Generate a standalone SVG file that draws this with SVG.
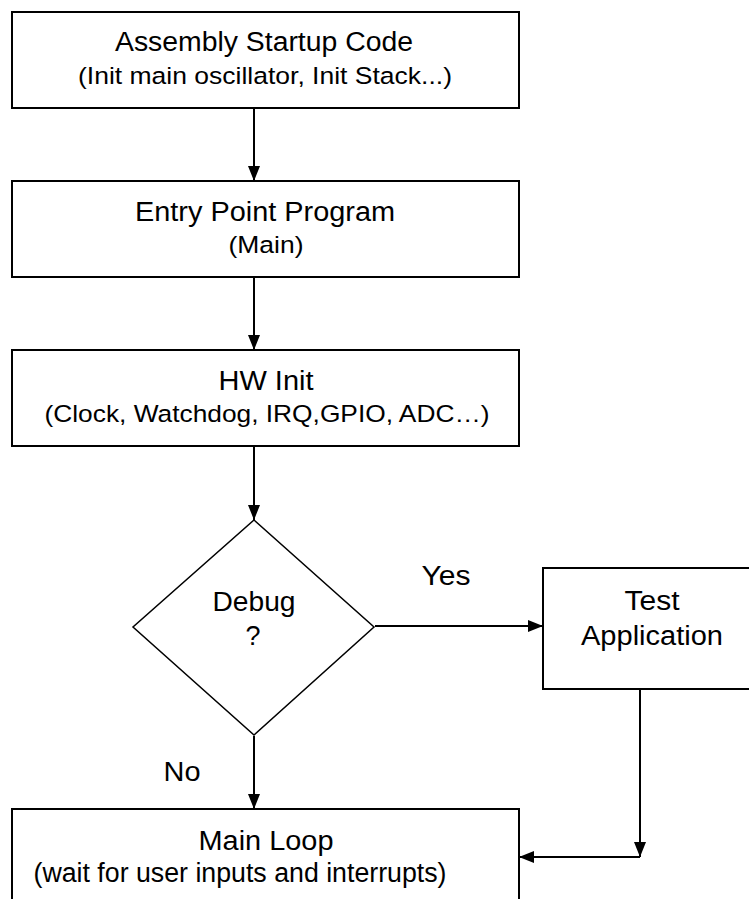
<svg xmlns="http://www.w3.org/2000/svg" width="749" height="899" viewBox="0 0 749 899">
<style>
.box{fill:#fff;stroke:#000;stroke-width:2}
.t{font-family:"Liberation Sans",Arial,sans-serif;font-size:27px;fill:#000;text-anchor:middle}
.s{font-family:"Liberation Sans",Arial,sans-serif;font-size:24.5px;fill:#000;text-anchor:middle}
.c{fill:none;stroke:#000;stroke-width:2}
</style>
<defs>
<marker id="ah" markerWidth="15" markerHeight="12" refX="15" refY="6" orient="auto" markerUnits="userSpaceOnUse">
<path d="M0,0 L15,6 L0,12 Z" fill="#000"/>
</marker>
</defs>
<rect width="749" height="899" fill="#fff"/>
<g id="connectors">
<line class="c" x1="254" y1="108" x2="254" y2="181" marker-end="url(#ah)"/>
<line class="c" x1="254" y1="277" x2="254" y2="350" marker-end="url(#ah)"/>
<line class="c" x1="254" y1="446" x2="254" y2="520" marker-end="url(#ah)"/>
<line class="c" x1="375" y1="626" x2="543" y2="626" marker-end="url(#ah)"/>
<line class="c" x1="254" y1="736" x2="254" y2="809" marker-end="url(#ah)"/>
<line class="c" x1="640" y1="689" x2="640" y2="857" marker-end="url(#ah)"/>
<line class="c" x1="640" y1="857" x2="519" y2="857" marker-end="url(#ah)"/>
<text class="t" x="446" y="585" textLength="49" lengthAdjust="spacingAndGlyphs">Yes</text>
<text class="t" x="182" y="781" textLength="37" lengthAdjust="spacingAndGlyphs">No</text>
</g>
<g id="startup">
<rect class="box" x="12" y="12" width="507" height="96"/>
<text class="t" x="264" y="51" textLength="298" lengthAdjust="spacingAndGlyphs">Assembly Startup Code</text>
<text class="s" x="265" y="84" textLength="374" lengthAdjust="spacingAndGlyphs">(Init main oscillator, Init Stack...)</text>
</g>
<g id="entry">
<rect class="box" x="12" y="181" width="507" height="96"/>
<text class="t" x="265" y="221" textLength="260" lengthAdjust="spacingAndGlyphs">Entry Point Program</text>
<text class="s" x="266" y="253" textLength="75" lengthAdjust="spacingAndGlyphs">(Main)</text>
</g>
<g id="hwinit">
<rect class="box" x="12" y="350" width="507" height="96"/>
<text class="t" x="266" y="390" textLength="95" lengthAdjust="spacingAndGlyphs">HW Init</text>
<text class="s" x="267" y="422" textLength="445" lengthAdjust="spacingAndGlyphs">(Clock, Watchdog, IRQ,GPIO, ADC…)</text>
</g>
<g id="debug">
<polygon points="254,520 374,627 254,735 133,627" fill="#fff" stroke="#000" stroke-width="1.5"/>
<text class="t" x="254" y="611" textLength="83" lengthAdjust="spacingAndGlyphs">Debug</text>
<text class="t" x="253" y="645">?</text>
</g>
<g id="test">
<rect class="box" x="543" y="568" width="210" height="121"/>
<text class="t" x="652" y="610" textLength="55" lengthAdjust="spacingAndGlyphs">Test</text>
<text class="t" x="652" y="645" textLength="142" lengthAdjust="spacingAndGlyphs">Application</text>
</g>
<g id="mainloop">
<rect class="box" x="12" y="809" width="507" height="100"/>
<text class="t" x="266" y="850" textLength="135" lengthAdjust="spacingAndGlyphs">Main Loop</text>
<text class="t" x="240" y="882" textLength="413" lengthAdjust="spacingAndGlyphs">(wait for user inputs and interrupts)</text>
</g>
</svg>
